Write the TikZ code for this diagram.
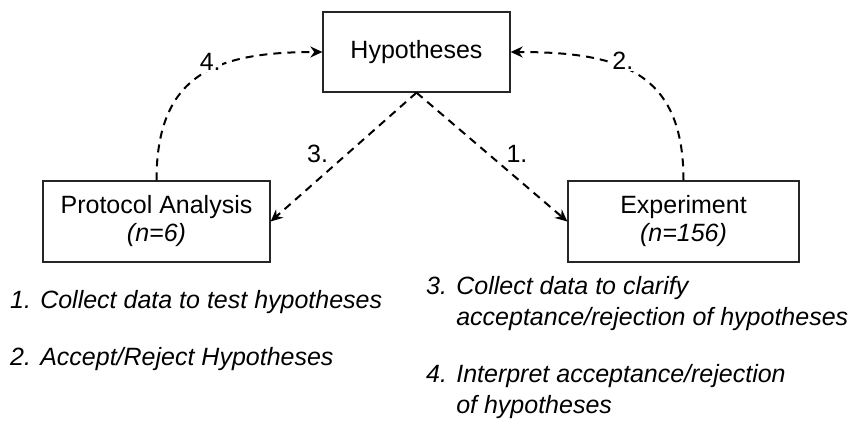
\documentclass[tikz,border=0pt]{standalone}
\usepackage{fontspec}
\setmainfont{Liberation Sans}
\usetikzlibrary{arrows.meta}
\usetikzlibrary{positioning}
\usetikzlibrary{calc}

\tikzset{
  box/.style={draw=black!85, line width=1.3pt, align=center, inner sep=0pt,
    minimum height=81pt, font=\fontsize{25}{28}\selectfont},
  link/.style={line width=2pt, dash pattern=on 8pt off 6pt,
    -{Stealth[length=12pt,width=11pt]}},
  lbl/.style={fill=white, inner sep=1pt, font=\fontsize{25}{30}\selectfont},
  note/.style={anchor=west, align=left, inner sep=0pt,
    font=\fontsize{25}{31}\selectfont\itshape}
}

\begin{document}
\begin{tikzpicture}[x=1pt, y=1pt]
 \useasboundingbox (0,0) rectangle (857,-436);

 %boxes
 \node[box, minimum width=187pt, minimum height=80pt] (hyp) at (416.5,-52) {Hypotheses};
 \node[box, minimum width=227pt] (prot) at (156.5,-221.5) {Protocol Analysis\\\textit{(n=6)}};
 \node[box, minimum width=231pt] (exp) at (683.5,-221.5) {Experiment\\\textit{(n=156)}};

 %arrows
 \draw[link] (hyp.south) -- (exp.west) node[lbl, midway, xshift=25pt, yshift=3pt] {1.};
 \draw[link] (hyp.south) -- (prot.east) node[lbl, midway, xshift=-26pt, yshift=3pt] {3.};
 \draw[link] (prot.north) to[out=90, in=180, looseness=1.3] node[lbl, pos=.56, yshift=8pt] {4.} (hyp.west);
 \draw[link] (exp.north) to[out=90, in=0, looseness=1.3] node[lbl, pos=.56, yshift=8pt, xshift=-4pt] {2.} (hyp.east);

 %legend
 \node[note] (n1) at (10,-302) {1. Collect data to test hypotheses};
 \node[note] (n2) at (10,-359) {2. Accept/Reject Hypotheses};
 \node[note] (n3) at (426,-304) {3. Collect data to clarify\\\phantom{3. }acceptance/rejection of hypotheses};
 \node[note] (n4) at (426,-392) {4. Interpret acceptance/rejection\\\phantom{4. }of hypotheses};

\end{tikzpicture}
\end{document}
